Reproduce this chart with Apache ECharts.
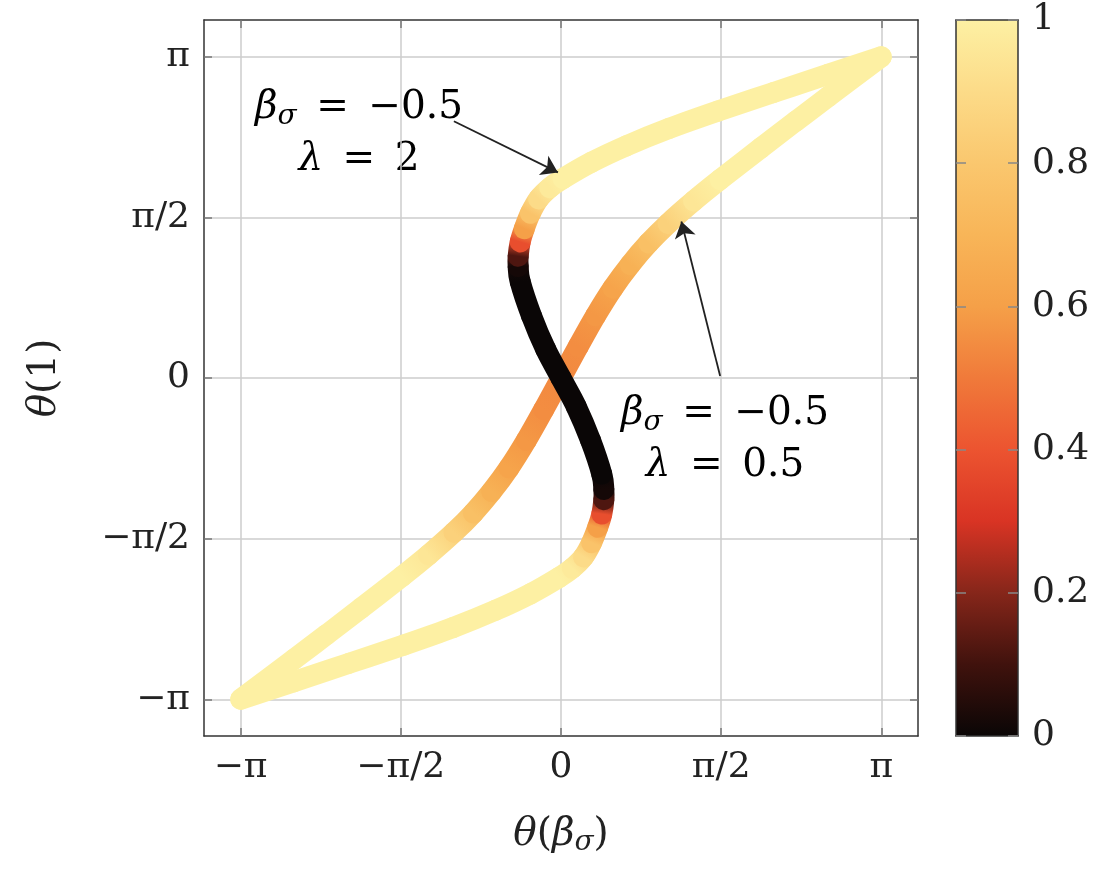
<!DOCTYPE html>
<html>
<head>
<meta charset="utf-8">
<script src="https://cdn.jsdelivr.net/npm/echarts@6/dist/echarts.min.js"></script>
<style>
  html, body { margin: 0; padding: 0; background: #fff; }
  #main { width: 1102px; height: 873px; }
</style>
</head>
<body>
<div id="main"></div>
<script>
// tick positions and their labels
const xTickValues = [-Math.PI, -Math.PI / 2, 0, Math.PI / 2, Math.PI];
const xTickLabels = ['−π', '−π/2', '0', 'π/2', 'π'];
const yTickValues = [-Math.PI, -Math.PI / 2, 0, Math.PI / 2, Math.PI];
const yTickLabels = ['−π', '−π/2', '0', 'π/2', 'π'];

// curve beta_sigma = -0.5, lambda = 2 (x, y, colour value)
const curveAX = [-3.14, -2.62, -2.08, -1.54, -1.06, -0.64, -0.30, -0.02, 0.11, 0.22, 0.30, 0.36, 0.40, 0.42, 0.42, 0.40, 0.29, 0.15,
  0, -0.15, -0.29, -0.40, -0.42, -0.42, -0.40, -0.36, -0.30, -0.22, -0.11, 0.02, 0.30, 0.64, 1.06, 1.54, 2.08, 2.62, 3.14];
const curveAY = [-3.14, -2.97, -2.79, -2.61, -2.44, -2.27, -2.11, -1.95, -1.86, -1.75, -1.61, -1.46, -1.33, -1.19, -1.09, -0.94, -0.61, -0.28,
  0, 0.28, 0.61, 0.94, 1.09, 1.19, 1.33, 1.46, 1.61, 1.75, 1.86, 1.95, 2.11, 2.27, 2.44, 2.61, 2.79, 2.97, 3.14];
const curveAC = [1, 1, 1, 1, 1, 1, 1, 1, 0.97, 0.9, 0.78, 0.6, 0.38, 0.12, 0.02, 0, 0, 0,
  0, 0, 0, 0, 0.02, 0.12, 0.38, 0.6, 0.78, 0.9, 0.97, 1, 1, 1, 1, 1, 1, 1, 1];

// curve beta_sigma = -0.5, lambda = 0.5
const curveBX = [-3.14, -2.62, -2.30, -1.96, -1.56, -1.30, -1.05, -0.86, -0.68, -0.51, -0.34, -0.17,
  0, 0.17, 0.34, 0.51, 0.68, 0.86, 1.05, 1.30, 1.56, 1.96, 2.30, 2.62, 3.14];
const curveBY = [-3.14, -2.75, -2.51, -2.25, -1.94, -1.73, -1.51, -1.32, -1.11, -0.88, -0.61, -0.31,
  0, 0.31, 0.61, 0.88, 1.11, 1.32, 1.51, 1.73, 1.94, 2.25, 2.51, 2.75, 3.14];
const curveBC = [1, 1, 1, 1, 1, 0.95, 0.85, 0.76, 0.68, 0.62, 0.58, 0.55,
  0.54, 0.55, 0.58, 0.62, 0.68, 0.76, 0.85, 0.95, 1, 1, 1, 1, 1];

// colour map, evenly spaced from 0 to 1
const cmap = ['#0a0606', '#40120d', '#86261a', '#d93424', '#ec5430', '#f07a3a',
  '#f5a048', '#f8b558', '#fac76e', '#fcdb88', '#fdf0a3'];

// arrows: [from, to] in data coordinates
const arrowA = [[-1.05, 2.51], [-0.03, 2.01]];
const arrowB = [[1.56, 0.02], [1.18, 1.53]];

const FONT = 'DejaVu Serif';
const chart = echarts.init(document.getElementById('main'));

function colorAt(v) {
  return echarts.color.lerp(Math.max(0, Math.min(1, v)), cmap);
}

function tickFmt(values, labels) {
  return function (v) {
    for (let i = 0; i < values.length; i++) {
      if (Math.abs(values[i] - v) < 1e-6) return labels[i];
    }
    return '';
  };
}

// one item per piece between two read points; neighbours are kept so the
// piece can be drawn as a smooth (catmull-rom) bezier
function curveSeries(name, xs, ys, cs) {
  const n = xs.length;
  const data = [];
  for (let i = 0; i < n - 1; i++) {
    const a = Math.max(i - 1, 0), d = Math.min(i + 2, n - 1);
    data.push([xs[a], ys[a], xs[i], ys[i], xs[i + 1], ys[i + 1], xs[d], ys[d], cs[i], cs[i + 1]]);
  }
  return {
    type: 'custom',
    name: name,
    xAxisIndex: 0,
    yAxisIndex: 0,
    silent: true,
    data: data,
    encode: { x: [2, 4], y: [3, 5] },
    renderItem: function (params, api) {
      const p0 = api.coord([api.value(0), api.value(1)]);
      const p1 = api.coord([api.value(2), api.value(3)]);
      const p2 = api.coord([api.value(4), api.value(5)]);
      const p3 = api.coord([api.value(6), api.value(7)]);
      return {
        type: 'bezierCurve',
        shape: {
          x1: p1[0], y1: p1[1], x2: p2[0], y2: p2[1],
          cpx1: p1[0] + (p2[0] - p0[0]) / 6, cpy1: p1[1] + (p2[1] - p0[1]) / 6,
          cpx2: p2[0] - (p3[0] - p1[0]) / 6, cpy2: p2[1] - (p3[1] - p1[1]) / 6
        },
        style: {
          stroke: new echarts.graphic.LinearGradient(p1[0], p1[1], p2[0], p2[1], [
            { offset: 0, color: colorAt(api.value(8)) },
            { offset: 1, color: colorAt(api.value(9)) }
          ], true),
          lineWidth: 21,
          lineCap: 'round',
          fill: null
        }
      };
    }
  };
}

const labelStyle = { fontFamily: FONT, fontSize: 36, color: '#222' };
const frameLine = { show: true, onZero: false, lineStyle: { color: '#333', width: 1.5 } };
const innerTick = { show: true, inside: true, length: 8, lineStyle: { color: '#777', width: 1.5 } };
const richName = {
  i: { fontFamily: FONT, fontSize: 39, fontStyle: 'italic', color: '#222' },
  n: { fontFamily: FONT, fontSize: 39, color: '#222' },
  sub: { fontFamily: FONT, fontSize: 28, fontStyle: 'italic', color: '#222', padding: [17, 0, 0, 0] }
};

const option = {
  animation: false,
  backgroundColor: '#fff',
  grid: [
    { left: 204, top: 20, width: 714, height: 716 },
    { left: 956, top: 20, width: 62, height: 716 }
  ],
  xAxis: [
    {
      gridIndex: 0, type: 'value', min: -3.5, max: 3.5, position: 'bottom',
      axisLine: frameLine,
      axisTick: Object.assign({ customValues: xTickValues }, innerTick),
      axisLabel: Object.assign({ customValues: xTickValues, formatter: tickFmt(xTickValues, xTickLabels), margin: 14 }, labelStyle),
      splitLine: { show: true, lineStyle: { color: '#cccccc', width: 1.5 } },
      name: '{i|θ}{n|(}{i|β}{sub|σ}{n|)}',
      nameLocation: 'middle', nameGap: 76,
      nameTextStyle: { rich: richName }
    },
    {
      gridIndex: 0, type: 'value', min: -3.5, max: 3.5, position: 'top',
      axisLine: frameLine,
      axisTick: Object.assign({ customValues: xTickValues }, innerTick),
      axisLabel: { show: false }, splitLine: { show: false }
    },
    {
      gridIndex: 1, type: 'category', data: [''], position: 'bottom', z: 5,
      axisLine: frameLine, axisTick: { show: false }, axisLabel: { show: false }
    },
    {
      gridIndex: 1, type: 'category', data: [''], position: 'top', z: 5,
      axisLine: frameLine, axisTick: { show: false }, axisLabel: { show: false }
    }
  ],
  yAxis: [
    {
      gridIndex: 0, type: 'value', min: -3.5, max: 3.5, position: 'left',
      axisLine: frameLine,
      axisTick: Object.assign({ customValues: yTickValues }, innerTick),
      axisLabel: Object.assign({ customValues: yTickValues, formatter: tickFmt(yTickValues, yTickLabels), margin: 14 }, labelStyle),
      splitLine: { show: true, lineStyle: { color: '#cccccc', width: 1.5 } },
      name: '{i|θ}{n|(1)}',
      nameLocation: 'middle', nameGap: 140, nameRotate: 90,
      nameTextStyle: { rich: richName }
    },
    {
      gridIndex: 0, type: 'value', min: -3.5, max: 3.5, position: 'right',
      axisLine: frameLine,
      axisTick: Object.assign({ customValues: yTickValues }, innerTick),
      axisLabel: { show: false }, splitLine: { show: false }
    },
    {
      gridIndex: 1, type: 'value', min: 0, max: 1, interval: 0.2, position: 'right', z: 5,
      axisLine: frameLine,
      axisTick: { show: true, inside: true, length: 10, lineStyle: { color: '#888', width: 1.5 } },
      axisLabel: Object.assign({ margin: 14 }, labelStyle),
      splitLine: { show: false }
    },
    {
      gridIndex: 1, type: 'value', min: 0, max: 1, interval: 0.2, position: 'left', z: 5,
      axisLine: frameLine,
      axisTick: { show: true, inside: true, length: 10, lineStyle: { color: '#888', width: 1.5 } },
      axisLabel: { show: false }, splitLine: { show: false }
    }
  ],
  graphic: [
    {
      type: 'text', x: 359, y: 82, silent: true,
      style: {
        text: '{i|β}{sub|σ}{n|\u2002=\u2002−0.5}\n{i|λ}{n|\u2002=\u20022}',
        rich: richName, align: 'center', verticalAlign: 'top', lineHeight: 52
      }
    },
    {
      type: 'text', x: 725, y: 388, silent: true,
      style: {
        text: '{i|β}{sub|σ}{n|\u2002=\u2002−0.5}\n{i|λ}{n|\u2002=\u20020.5}',
        rich: richName, align: 'center', verticalAlign: 'top', lineHeight: 52
      }
    }
  ],
  series: [
    curveSeries('lambda 0.5', curveBX, curveBY, curveBC),
    curveSeries('lambda 2', curveAX, curveAY, curveAC),
    {
      type: 'line', xAxisIndex: 0, yAxisIndex: 0, data: [], silent: true,
      markLine: {
        silent: true,
        symbol: ['none', 'arrow'],
        symbolSize: 16,
        label: { show: false },
        lineStyle: { color: '#222', width: 1.8, type: 'solid' },
        data: [
          [{ coord: arrowA[0] }, { coord: arrowA[1] }],
          [{ coord: arrowB[0] }, { coord: arrowB[1] }]
        ]
      }
    },
    {
      type: 'bar', xAxisIndex: 2, yAxisIndex: 2, data: [1], barWidth: '100%', silent: true,
      itemStyle: {
        color: {
          type: 'linear', x: 0, y: 1, x2: 0, y2: 0,
          colorStops: cmap.map(function (c, i) { return { offset: i / (cmap.length - 1), color: c }; })
        }
      }
    }
  ]
};

chart.setOption(option);
</script>
</body>
</html>
